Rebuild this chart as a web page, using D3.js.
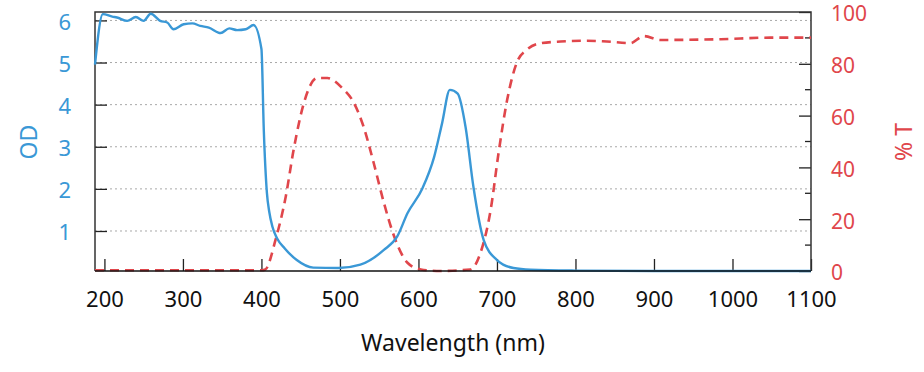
<!DOCTYPE html>
<html>
<head>
<meta charset="utf-8">
<script src="https://cdn.jsdelivr.net/npm/d3@7"></script>
<style>
  body { margin: 0; background: #fff; }
  svg text { font-family: "Noto Sans", "DejaVu Sans", sans-serif; }
</style>
</head>
<body>
<svg id="chart" width="924" height="372"></svg>
<script>
// optical density curve (blue, left axis)
var odWavelength = [188, 198, 210, 216, 229, 240, 250, 259, 271, 280, 288, 301, 312, 322, 333, 348, 359, 369, 380, 390,
    400, 403, 407, 410, 414, 420, 430, 445, 466, 498, 526, 556, 573, 586, 605, 620, 630, 640, 650, 660, 670,
    683, 700, 721, 743, 800, 900, 1000, 1100]
var odValues = [4.95, 6.15, 6.09, 6.07, 5.99, 6.08, 5.99, 6.16, 5.99, 5.95, 5.79, 5.91, 5.93, 5.87, 5.83, 5.70, 5.81, 5.77, 5.79, 5.89,
    5.32, 3.4, 1.9, 1.45, 1.1, 0.82, 0.58, 0.31, 0.13, 0.12, 0.2, 0.55, 0.87, 1.42, 2.01, 2.76, 3.55, 4.35, 4.26, 3.47, 2.05,
    0.79, 0.31, 0.12, 0.08, 0.06, 0.05, 0.05, 0.05]

// transmission curve (red dashed, right axis)
var tWavelength = [188, 250, 300, 350, 400, 405, 418, 431, 441, 454, 471, 484, 503, 518, 530, 543, 556, 569, 586, 603,
    628, 666, 679, 692, 702, 713, 726, 738, 755, 781, 815, 840, 870, 887, 908, 985, 1048, 1100]
var tValues = [0.3, 0.3, 0.3, 0.3, 0.3, 0.6, 12.1, 28.8, 46.8, 64.8, 74.5, 74.5, 70.6, 64.8, 55.8, 41.7, 26.3, 13.4, 3.2, 0.6,
    0, 0.6, 7, 23.7, 45.5, 66.1, 81, 85.4, 87.9, 88.6, 88.9, 88.6, 88, 90.7, 89.2, 89.5, 90.1, 90.1]

var xTicks = [200, 300, 400, 500, 600, 700, 800, 900, 1000, 1100]
var odTicks = [1, 2, 3, 4, 5, 6]
var tTicks = [0, 20, 40, 60, 80, 100]
var tMinorTicks = [10, 30, 50, 70, 90]

var blue = '#3a98d6'
var red = '#e0464b'

var margin = {left: 95, top: 12, right: 113, bottom: 101}
var width = 924 - margin.left - margin.right
var height = 372 - margin.top - margin.bottom

var svg = d3.select('#chart')
var g = svg.append('g').attr('transform', 'translate(' + margin.left + ',' + margin.top + ')')

var xScale = d3.scaleLinear().domain([188, 1100]).range([0, width])
var yOD = d3.scaleLinear().domain([0.05, 6.2]).range([height, 0])
var yT = d3.scaleLinear().domain([0, 100]).range([height, 0])

// dotted grid from OD ticks
g.selectAll('.grid')
    .data(odTicks)
    .enter()
    .append('line')
    .attr('x1', 0)
    .attr('x2', width)
    .attr('y1', function(d) { return yOD(d) })
    .attr('y2', function(d) { return yOD(d) })
    .style('stroke', '#a8a8a8')
    .style('stroke-width', 1)
    .style('stroke-dasharray', '2,3')

// left axis
var leftAxis = g.append('g').call(d3.axisLeft(yOD).tickValues(odTicks).tickFormat(d3.format('d')).tickSize(-12).tickPadding(24))
leftAxis.select('.domain').remove()
leftAxis.selectAll('line').style('stroke', '#222').style('stroke-width', 1.3)
leftAxis.selectAll('text')
    .style('fill', blue)
    .style('font-size', '22px')
    .attr('dy', '0.4em')

// bottom axis
var bottomAxis = g.append('g')
    .attr('transform', 'translate(0,' + height + ')')
    .call(d3.axisBottom(xScale).tickValues(xTicks).tickFormat(d3.format('d')).tickSize(-12).tickPadding(24))
bottomAxis.select('.domain').remove()
bottomAxis.selectAll('line').style('stroke', '#222').style('stroke-width', 1.3)
bottomAxis.selectAll('text')
    .style('fill', '#111')
    .style('font-size', '22px')
    .attr('dy', '0.55em')

// right axis
var rightAxis = g.append('g')
    .attr('transform', 'translate(' + width + ',0)')
    .call(d3.axisRight(yT).tickValues(tTicks).tickFormat(d3.format('d')).tickSize(-12).tickPadding(20))
rightAxis.select('.domain').remove()
rightAxis.selectAll('line').style('stroke', '#222').style('stroke-width', 1.3)
rightAxis.selectAll('text')
    .style('fill', red)
    .style('font-size', '21px')
    .attr('dy', '0.42em')

g.selectAll('.minorT')
    .data(tMinorTicks)
    .enter()
    .append('line')
    .attr('x1', width - 6)
    .attr('x2', width)
    .attr('y1', function(d) { return yT(d) })
    .attr('y2', function(d) { return yT(d) })
    .style('stroke', '#222')
    .style('stroke-width', 1.3)

// frame
g.append('path')
    .attr('d', 'M0,' + height + 'V0H' + width + 'V' + height)
    .style('fill', 'none')
    .style('stroke', '#333')
    .style('stroke-width', 1.5)

// curves
var odLine = d3.line()
    .x(function(d, i) { return xScale(odWavelength[i]) })
    .y(function(d) { return yOD(d) })
    .curve(d3.curveMonotoneX)

var tLine = d3.line()
    .x(function(d, i) { return xScale(tWavelength[i]) })
    .y(function(d) { return yT(d) })
    .curve(d3.curveMonotoneX)

g.append('path')
    .datum(tValues)
    .attr('d', tLine)
    .style('fill', 'none')
    .style('stroke', red)
    .style('stroke-width', 2.6)
    .style('stroke-dasharray', '9,6')

g.append('path')
    .datum(odValues)
    .attr('d', odLine)
    .style('fill', 'none')
    .style('stroke', blue)
    .style('stroke-width', 2.4)
    .style('stroke-linejoin', 'round')

// bottom line drawn on top
g.append('line')
    .attr('x1', 0).attr('x2', width)
    .attr('y1', height).attr('y2', height)
    .style('stroke', '#111')
    .style('stroke-width', 1.6)

// axis titles
svg.append('text')
    .attr('x', margin.left + width / 2)
    .attr('y', 351)
    .attr('text-anchor', 'middle')
    .style('font-size', '23px')
    .style('fill', '#111')
    .text('Wavelength (nm)')

svg.append('text')
    .attr('transform', 'translate(37,142) rotate(-90)')
    .attr('text-anchor', 'middle')
    .style('font-size', '23px')
    .style('fill', blue)
    .text('OD')

svg.append('text')
    .attr('transform', 'translate(912,142) rotate(-90)')
    .attr('text-anchor', 'middle')
    .style('font-size', '23px')
    .style('fill', red)
    .text('% T')
</script>
</body>
</html>
